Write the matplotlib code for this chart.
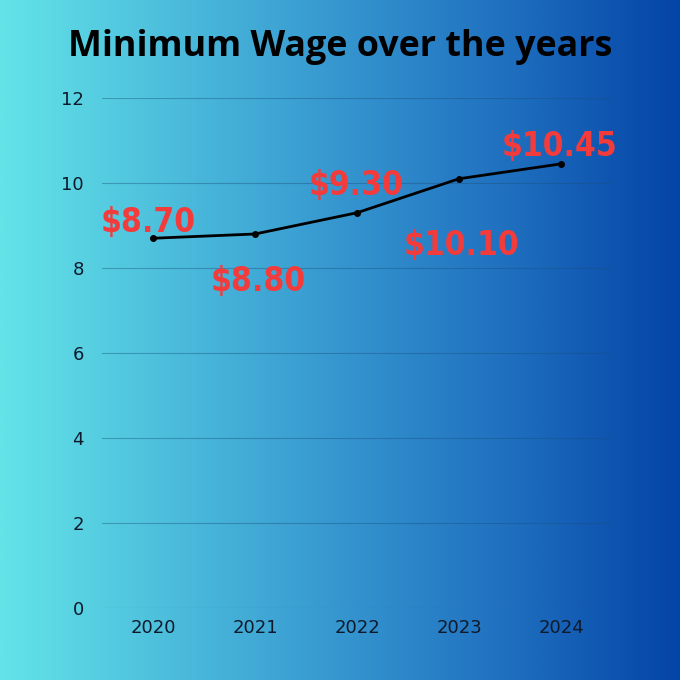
import matplotlib
matplotlib.use("Agg")
import matplotlib.pyplot as plt
import numpy as np
from matplotlib.colors import LinearSegmentedColormap

years = ["2020", "2021", "2022", "2023", "2024"]
wages = [8.70, 8.80, 9.30, 10.10, 10.45]
wage_labels = ["$8.70", "$8.80", "$9.30", "$10.10", "$10.45"]
y_ticks = [0, 2, 4, 6, 8, 10, 12]

# label offsets in pixels (dx, dy) relative to each point
label_offsets = [(-5, 16), (3, -48), (-1, 27), (2, -67), (-2, 17)]

fig = plt.figure(figsize=(6.8, 6.8), dpi=100)

# gradient background
bg = fig.add_axes([0, 0, 1, 1], zorder=0)
cmap = LinearSegmentedColormap.from_list(
    "bg", [(0.0, "#63e4e8"), (0.45, "#3a9ed2"), (0.75, "#1f6fbf"), (1.0, "#0444a6")])
grad = np.linspace(0, 1, 512).reshape(1, -1)
bg.imshow(grad, aspect="auto", cmap=cmap, extent=[0, 1, 0, 1])
bg.set_axis_off()

ax = fig.add_axes([0.15, 1 - 608 / 680, 0.75, 510 / 680], zorder=1)
ax.patch.set_alpha(0)
x = np.arange(len(years))
ax.plot(x, wages, color="black", linewidth=2, marker="o", markersize=4, zorder=3)

for xi, yi, lab, (dx, dy) in zip(x, wages, wage_labels, label_offsets):
    ax.annotate(lab, (xi, yi), xytext=(dx * 0.72, dy * 0.72), textcoords="offset points",
                ha="center", va="center", color="#f43b3b", fontsize=24, fontweight="bold",
                fontstretch="condensed",
                family=["DejaVu Sans"], zorder=4)

ax.set_xlim(-0.5, len(years) - 0.5)
ax.set_ylim(0, 12)
ax.set_yticks(y_ticks)
ax.set_xticks(x)
ax.set_xticklabels(years)
ax.grid(axis="y", color="#1a4f7a", alpha=0.4, linewidth=0.8)
ax.set_axisbelow(True)
for s in ax.spines.values():
    s.set_visible(False)
ax.tick_params(length=0, labelsize=13, labelcolor="#0e1a2b")
for lab in ax.get_xticklabels() + ax.get_yticklabels():
    lab.set_family(["DejaVu Sans"])
ax.tick_params(axis="x", pad=8)
ax.tick_params(axis="y", pad=13)

fig.text(0.5, 1 - 47 / 680, "Minimum Wage over the years", ha="center", va="center",
         fontsize=25.8, fontweight="bold", fontstretch="normal", color="black",
         family=["Open Sans", "DejaVu Sans"])

fig.savefig("out.png", dpi=100)
